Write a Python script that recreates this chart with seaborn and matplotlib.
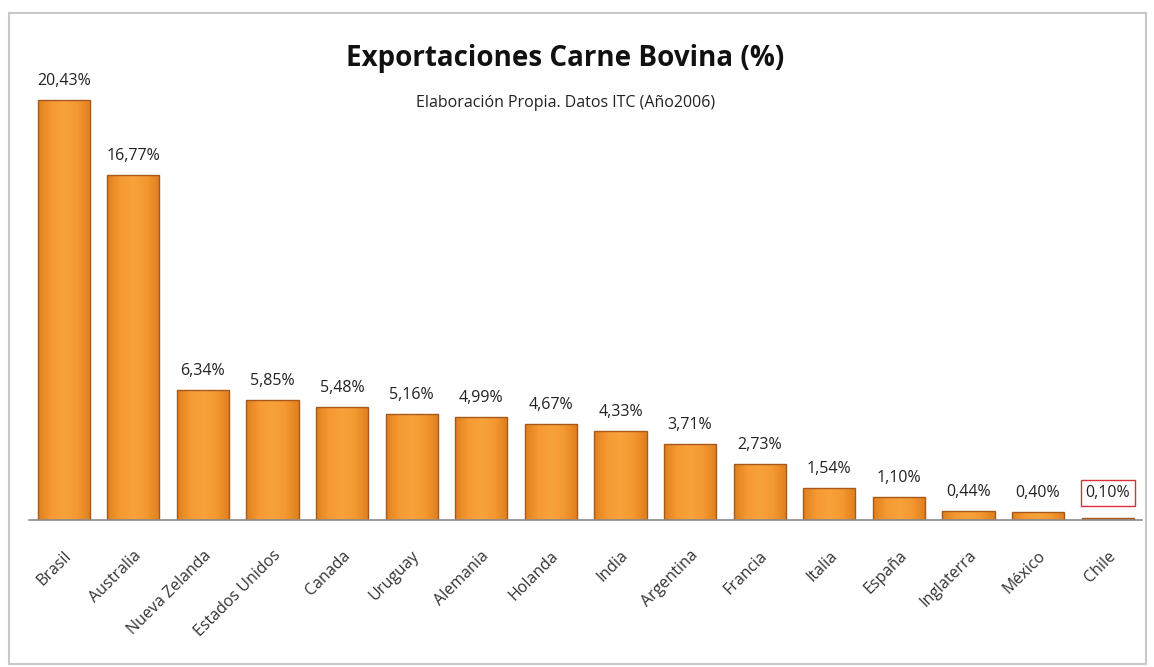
import matplotlib
matplotlib.use("Agg")
import matplotlib.pyplot as plt
import seaborn as sns
import pandas as pd
import numpy as np
from matplotlib.patches import Rectangle
from matplotlib.colors import LinearSegmentedColormap

paises = ["Brasil", "Australia", "Nueva Zelanda", "Estados Unidos", "Canada", "Uruguay",
          "Alemania", "Holanda", "India", "Argentina", "Francia", "Italia", "España",
          "Inglaterra", "México", "Chile"]
valores = [20.43, 16.77, 6.34, 5.85, 5.48, 5.16, 4.99, 4.67, 4.33, 3.71, 2.73, 1.54, 1.10,
           0.44, 0.40, 0.10]
etiquetas = ["20,43%", "16,77%", "6,34%", "5,85%", "5,48%", "5,16%", "4,99%", "4,67%",
             "4,33%", "3,71%", "2,73%", "1,54%", "1,10%", "0,44%", "0,40%", "0,10%"]

sns.set_theme(style="white")
plt.rcParams['font.family'] = ['Open Sans', 'DejaVu Sans']

df = pd.DataFrame({"pais": paises, "valor": valores})

fig = plt.figure(figsize=(11.54, 6.67), dpi=100)
ax = fig.add_axes([0.025, 0.2204, 0.965, 0.6781])

sns.barplot(data=df, x="pais", y="valor", color="#F4922A", width=0.75,
            edgecolor="#A8581A", linewidth=1.0, saturation=1, ax=ax)

# soft horizontal shading on each bar (clipped to the bar patch)
cmap = LinearSegmentedColormap.from_list(
    "naranja", ["#E0801E", "#F69A32", "#F8A23C", "#F49830", "#DF7F1E"])
grad = np.linspace(0, 1, 64).reshape(1, -1)
for p in list(ax.patches):
    x0, y0 = p.get_x(), p.get_y()
    w, h = p.get_width(), p.get_height()
    im = ax.imshow(grad, cmap=cmap, aspect="auto", extent=(x0, x0 + w, y0, y0 + h),
                   zorder=p.get_zorder() + 0.1, interpolation="bicubic")
    im.set_clip_path(p)
    p.set_zorder(p.get_zorder() + 0.2)
    p.set_facecolor("none")

ax.set_xlim(-0.5, 15.5)
ax.set_ylim(0, 22)
ax.set_xlabel("")
ax.set_ylabel("")
ax.set_yticks([])
for s in ["top", "right", "left"]:
    ax.spines[s].set_visible(False)
ax.spines["bottom"].set_color("#8A8A8A")
ax.spines["bottom"].set_linewidth(1.2)
ax.spines["bottom"].set_zorder(5)
ax.tick_params(axis="x", length=0, pad=20)
ax.set_xticks(range(len(paises)))
ax.set_xticklabels(paises, rotation=45, ha="right", rotation_mode="anchor",
                   fontsize=11.5, color="#333333")

for i, (v, t) in enumerate(zip(valores, etiquetas)):
    kw = {}
    if i == len(valores) - 1:
        kw["bbox"] = dict(boxstyle="square,pad=0.3", fc="white", ec="#D9303A", lw=1)
    ax.annotate(t, (i, v), xytext=(0, 8 if i < len(valores) - 1 else 12),
                textcoords="offset points", ha="center", va="bottom",
                fontsize=11.5, color="#222222", zorder=6, **kw)

fig.text(0.49, 0.913, "Exportaciones Carne Bovina (%)", ha="center", va="center",
         fontsize=20, fontweight="bold", color="#111111")
fig.text(0.49, 0.845, "Elaboración Propia. Datos ITC (Año2006)", ha="center", va="center",
         fontsize=11.5, color="#222222")

border = Rectangle((0.008, 0.005), 0.985, 0.975, transform=fig.transFigure,
                   fill=False, ec="#C8C8C8", lw=1.5)
fig.patches.append(border)

fig.savefig("out.png", dpi=100)
